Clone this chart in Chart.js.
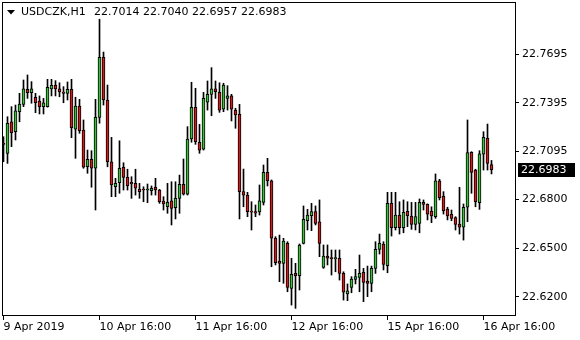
<!DOCTYPE html>
<html>
<head>
<meta charset="utf-8">
<script src="https://cdn.jsdelivr.net/npm/chart.js@4.4.1/dist/chart.umd.min.js"></script>
<style>
html, body { margin: 0; padding: 0; background: #fff; }
</style>
</head>
<body>
<canvas id="mycanvas" width="580" height="340"></canvas>
<script>
var symbol = 'USDCZK,H1';

// hourly bars, oldest first
var opens = [22.7147,22.7084,22.7278,22.7217,22.7340,22.7385,22.7478,22.7457,22.7429,22.7406,
	22.7371,22.7371,22.7480,22.7502,22.7481,22.7461,22.7453,22.7478,22.7232,22.7375,
	22.7227,22.7001,22.7047,22.6992,22.7305,22.7675,22.7412,22.7032,22.6878,22.6903,
	22.6998,22.6936,22.6906,22.6899,22.6864,22.6862,22.6858,22.6854,22.6875,22.6858,
	22.6790,22.6755,22.6792,22.6749,22.6807,22.6893,22.6832,22.7172,22.7367,22.7152,
	22.7109,22.7398,22.7447,22.7480,22.7459,22.7355,22.7422,22.7437,22.7350,22.7324,
	22.6848,22.6827,22.6729,22.6725,22.6723,22.6782,22.6967,22.6914,22.6561,22.6421,
	22.6407,22.6530,22.6253,22.6345,22.6331,22.6530,22.6669,22.6700,22.6725,22.6663,
	22.6382,22.6452,22.6442,22.6435,22.6438,22.6345,22.6218,22.6259,22.6308,22.6321,
	22.6352,22.6298,22.6284,22.6376,22.6493,22.6526,22.6392,22.6776,22.6626,22.6704,
	22.6626,22.6727,22.6698,22.6647,22.6653,22.6782,22.6770,22.6729,22.6694,22.6914,
	22.6821,22.6741,22.6709,22.6688,22.6649,22.6629,22.6752,22.7090,22.6981,22.6780,
	22.7078,22.7176,22.7014];
var highs = [22.7186,22.7309,22.7371,22.7381,22.7453,22.7535,22.7566,22.7525,22.7453,22.7437,
	22.7422,22.7539,22.7539,22.7531,22.7518,22.7494,22.7523,22.7539,22.7429,22.7416,
	22.7289,22.7104,22.7100,22.7416,22.7909,22.7707,22.7504,22.7182,22.6930,22.7161,
	22.7026,22.6986,22.6940,22.6986,22.6899,22.6878,22.6895,22.6883,22.6930,22.6862,
	22.6817,22.6899,22.6909,22.6909,22.6950,22.7049,22.7248,22.7521,22.7484,22.7262,
	22.7459,22.7529,22.7611,22.7529,22.7518,22.7515,22.7500,22.7447,22.7361,22.7385,
	22.6987,22.6844,22.6786,22.6766,22.6889,22.7012,22.7053,22.6920,22.6571,22.6581,
	22.6561,22.6540,22.6438,22.6407,22.6526,22.6760,22.6739,22.6776,22.6760,22.6797,
	22.6520,22.6520,22.6489,22.6489,22.6489,22.6355,22.6280,22.6325,22.6370,22.6458,
	22.6376,22.6390,22.6390,22.6540,22.6587,22.6540,22.6844,22.6844,22.6844,22.6786,
	22.6797,22.6786,22.6782,22.6782,22.6803,22.6797,22.6773,22.6755,22.6957,22.6924,
	22.6848,22.6752,22.6735,22.6694,22.6875,22.6772,22.7289,22.7094,22.6986,22.7100,
	22.7217,22.7264,22.7040];
var lows = [22.7032,22.7022,22.7125,22.7166,22.7278,22.7371,22.7422,22.7392,22.7334,22.7326,
	22.7326,22.7368,22.7437,22.7437,22.7432,22.7395,22.7412,22.7180,22.7053,22.7207,
	22.6992,22.6961,22.6875,22.6735,22.7269,22.7381,22.7001,22.6817,22.6817,22.6838,
	22.6858,22.6858,22.6807,22.6827,22.6807,22.6786,22.6780,22.6827,22.6827,22.6776,
	22.6735,22.6715,22.6643,22.6680,22.6715,22.6827,22.6827,22.7152,22.7139,22.7084,
	22.7104,22.7350,22.7315,22.7422,22.7336,22.7340,22.7350,22.7283,22.7238,22.6680,
	22.6755,22.6694,22.6612,22.6694,22.6704,22.6766,22.6883,22.6386,22.6397,22.6294,
	22.6284,22.6232,22.6150,22.6130,22.6243,22.6526,22.6612,22.6608,22.6643,22.6448,
	22.6376,22.6397,22.6335,22.6355,22.6304,22.6181,22.6177,22.6226,22.6280,22.6232,
	22.6171,22.6202,22.6232,22.6345,22.6464,22.6366,22.6349,22.6575,22.6612,22.6587,
	22.6595,22.6632,22.6616,22.6612,22.6595,22.6735,22.6674,22.6657,22.6684,22.6797,
	22.6710,22.6674,22.6669,22.6612,22.6587,22.6550,22.6663,22.6838,22.6755,22.6739,
	22.6981,22.6981,22.6957];
var closes = [22.7138,22.7269,22.7211,22.7346,22.7387,22.7480,22.7457,22.7480,22.7395,22.7371,
	22.7395,22.7490,22.7502,22.7480,22.7461,22.7453,22.7478,22.7242,22.7375,22.7223,
	22.6998,22.7047,22.6992,22.7305,22.7675,22.7412,22.7032,22.6889,22.6899,22.6992,
	22.6936,22.6885,22.6895,22.6869,22.6848,22.6858,22.6862,22.6869,22.6858,22.6786,
	22.6772,22.6782,22.6745,22.6807,22.6893,22.6832,22.7172,22.7367,22.7155,22.7104,
	22.7422,22.7447,22.7480,22.7463,22.7350,22.7504,22.7438,22.7355,22.7320,22.6848,
	22.6827,22.6725,22.6721,22.6715,22.6792,22.6967,22.6914,22.6561,22.6411,22.6407,
	22.6544,22.6259,22.6339,22.6331,22.6520,22.6678,22.6704,22.6725,22.6653,22.6530,
	22.6452,22.6438,22.6435,22.6442,22.6345,22.6229,22.6237,22.6310,22.6325,22.6345,
	22.6290,22.6284,22.6376,22.6493,22.6530,22.6401,22.6776,22.6626,22.6704,22.6626,
	22.6721,22.6700,22.6647,22.6694,22.6782,22.6770,22.6709,22.6698,22.6914,22.6811,
	22.6731,22.6698,22.6684,22.6647,22.6629,22.6752,22.7088,22.6967,22.6786,22.7080,
	22.7182,22.7022,22.6983];

var tickIdx = [0, 24, 48, 72, 96, 120];
var tickLabels = ['9 Apr 2019', '10 Apr 16:00', '11 Apr 16:00', '12 Apr 16:00', '15 Apr 16:00', '16 Apr 16:00'];
var priceTicks = [22.6200, 22.6500, 22.6800, 22.7095, 22.7395, 22.7695];

var UP = '#3cbf3c', DOWN = '#d01c1c', INK = '#000';

var wicks = [], bodies = [], bodyColors = [];
for (var i = 0; i < opens.length; i++) {
	wicks.push({x: i, y: [lows[i], highs[i]]});
	bodies.push({x: i, y: [opens[i], closes[i]]});
	bodyColors.push(closes[i] >= opens[i] ? UP : DOWN);
}
var last = opens.length - 1;

Chart.defaults.font.family = 'DejaVu Sans';
Chart.defaults.font.size = 11;
Chart.defaults.color = INK;

// frame, symbol header and bid box (MT4 look)
var decor = {
	id: 'decor',
	afterDraw: function(chart) {
		var c = chart.ctx, a = chart.chartArea;
		c.save();
		c.strokeStyle = INK;
		c.lineWidth = 1;
		c.strokeRect(Math.round(a.left) + 0.5, Math.round(a.top) + 0.5,
			Math.round(a.right - a.left), Math.round(a.bottom - a.top));

		c.fillStyle = INK;
		c.beginPath();
		c.moveTo(7, 10); c.lineTo(15, 10); c.lineTo(11, 14.5); c.closePath();
		c.fill();
		c.font = '11px "DejaVu Sans"';
		c.textBaseline = 'middle';
		c.fillText(symbol, 21, 12.5);
		c.fillText([opens[last], highs[last], lows[last], closes[last]].map(function(v) {
			return v.toFixed(4);
		}).join(' '), 94, 12.5);

		var y = Math.round(chart.scales.y.getPixelForValue(closes[last]));
		c.fillRect(518, y - 7, 57, 14);
		c.fillStyle = '#fff';
		c.fillText(closes[last].toFixed(4), 521, y);
		c.restore();
	}
};

var ctx = document.getElementById('mycanvas');
new Chart(ctx, {
	type: 'bar',
	data: {
		datasets: [
			{
				data: bodies,
				backgroundColor: bodyColors,
				borderColor: INK,
				borderWidth: 1,
				borderSkipped: false,
				barThickness: 3,
				minBarLength: 1,
				grouped: false,
				order: 0
			},
			{
				data: wicks,
				backgroundColor: INK,
				borderWidth: 0,
				barThickness: 1,
				grouped: false,
				order: 1
			}
		]
	},
	options: {
		responsive: false,
		devicePixelRatio: 1,
		animation: false,
		layout: { padding: { left: 2, top: 2, right: 0, bottom: 0 } },
		plugins: { legend: { display: false }, tooltip: { enabled: false } },
		scales: {
			x: {
				type: 'linear',
				min: -0.375,
				max: 127.875,
				offset: false,
				grid: { drawOnChartArea: false, offset: false, tickLength: 5, color: INK },
				border: { display: false },
				ticks: {
					autoSkip: false,
					maxRotation: 0,
					align: 'start',
					padding: 1,
					callback: function(v) {
						var k = tickIdx.indexOf(v);
						return k < 0 ? '' : tickLabels[k];
					}
				},
				afterBuildTicks: function(s) {
					s.ticks = tickIdx.map(function(v) { return {value: v}; });
				},
				afterFit: function(s) {
					s.height = 25;
					s.paddingLeft = 0; s.paddingRight = 0;
				}
			},
			y: {
				position: 'right',
				min: 22.6089,
				max: 22.8015,
				beginAtZero: false,
				grid: { drawOnChartArea: false, tickLength: 4, color: INK },
				border: { display: false },
				ticks: {
					padding: 3,
					callback: function(v) { return v.toFixed(4); }
				},
				afterBuildTicks: function(s) {
					s.ticks = priceTicks.map(function(v) { return {value: v}; });
				},
				afterFit: function(s) {
					s.width = 65;
					s.paddingTop = 0; s.paddingBottom = 0;
				}
			}
		}
	},
	plugins: [decor]
});
</script>
</body>
</html>
